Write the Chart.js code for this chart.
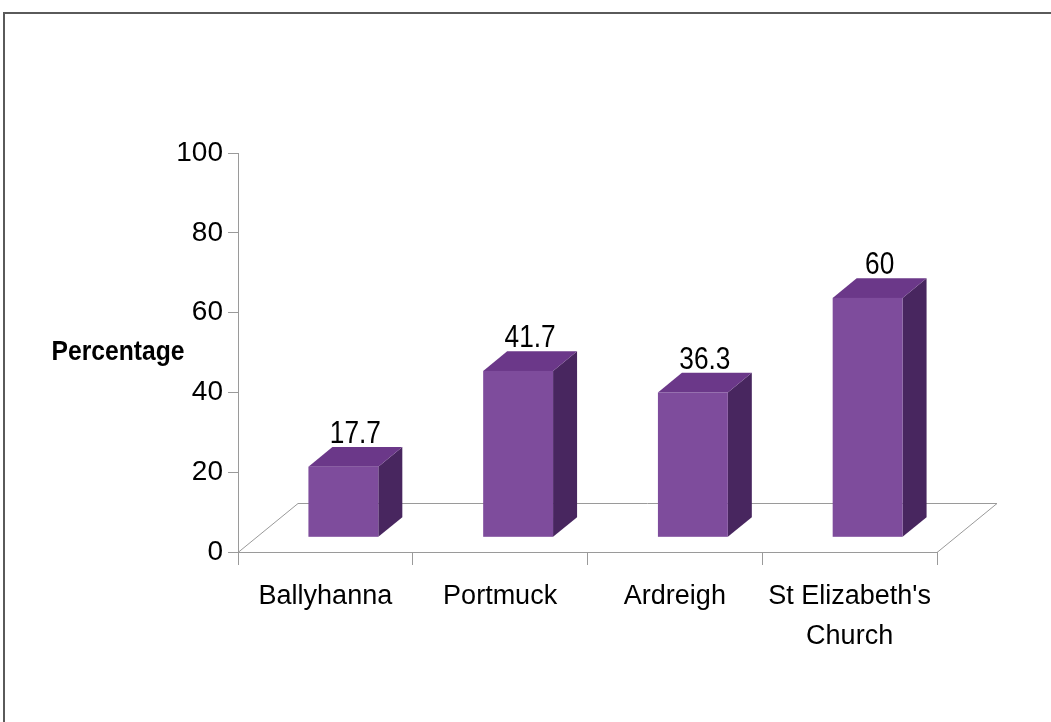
<!DOCTYPE html>
<html>
<head>
<meta charset="utf-8">
<script src="https://cdn.jsdelivr.net/npm/chart.js@4.4.1/dist/chart.umd.min.js"></script>
<style>
  html, body { margin: 0; padding: 0; background: #ffffff; }
  #wrap { position: relative; width: 1051px; height: 722px; }
</style>
</head>
<body>
<div id="wrap"><canvas id="c" width="1051" height="722"></canvas></div>
<script>
// ---- data ----
const categories = ["Ballyhanna", "Portmuck", "Ardreigh", ["St Elizabeth's", "Church"]];
const percentages = [17.7, 41.7, 36.3, 60];
const yTicks = [0, 20, 40, 60, 80, 100];
const yAxisTitle = "Percentage";

// ---- style ----
const FONT = "'Liberation Sans', Arial, sans-serif";
const FRONT = '#7E4C9C', TOP = '#6B3889', SIDE = '#48265F';
const AXIS = '#9a9a9a';
const FLOOR_DX = 60, FLOOR_DY = 49;     // depth of floor
const BAR_FRONT = 0.3, BAR_DEPTH = 0.4; // fractions of floor depth

function narrowText(ctx, text, x, y, squeeze) {
  ctx.save();
  ctx.translate(x, y);
  ctx.scale(squeeze, 1);
  ctx.fillText(text, 0, 0);
  ctx.restore();
}

const threeD = {
  id: 'threeD',
  beforeDraw(chart) {
    const ctx = chart.ctx;
    ctx.save();
    ctx.fillStyle = '#ffffff';
    ctx.fillRect(0, 0, chart.width, chart.height);
    ctx.strokeStyle = '#5a5a5a';
    ctx.lineWidth = 2;
    ctx.strokeRect(4, 13, chart.width + 20, chart.height + 20);
    ctx.restore();
  },
  beforeDatasetsDraw(chart) {
    const ctx = chart.ctx, a = chart.chartArea;
    ctx.save();
    ctx.strokeStyle = AXIS;
    ctx.lineWidth = 1;
    ctx.beginPath();
    ctx.moveTo(a.left, a.bottom + 0.5);
    ctx.lineTo(a.left + FLOOR_DX, a.bottom - FLOOR_DY + 0.5);
    ctx.lineTo(a.right + FLOOR_DX, a.bottom - FLOOR_DY + 0.5);
    ctx.lineTo(a.right, a.bottom + 0.5);
    ctx.stroke();
    ctx.restore();
  },
  afterDatasetsDraw(chart) {
    const ctx = chart.ctx;
    const meta = chart.getDatasetMeta(0);
    const ox = FLOOR_DX * BAR_FRONT, oy = FLOOR_DY * BAR_FRONT;
    const dx = FLOOR_DX * BAR_DEPTH, dy = FLOOR_DY * BAR_DEPTH;
    ctx.save();
    meta.data.forEach((bar, i) => {
      const p = bar.getProps(['x', 'y', 'base', 'width'], true);
      const l = p.x - p.width / 2 + ox, r = p.x + p.width / 2 + ox;
      const t = p.y - oy, b = p.base - oy;
      ctx.fillStyle = SIDE;
      ctx.beginPath();
      ctx.moveTo(r, t); ctx.lineTo(r + dx, t - dy); ctx.lineTo(r + dx, b - dy); ctx.lineTo(r, b);
      ctx.closePath(); ctx.fill();
      ctx.fillStyle = TOP;
      ctx.beginPath();
      ctx.moveTo(l, t); ctx.lineTo(l + dx, t - dy); ctx.lineTo(r + dx, t - dy); ctx.lineTo(r, t);
      ctx.closePath(); ctx.fill();
      ctx.fillStyle = FRONT;
      ctx.fillRect(l, t, r - l, b - t);
      ctx.fillStyle = '#000000';
      ctx.font = '32px ' + FONT;
      ctx.textAlign = 'center';
      ctx.textBaseline = 'alphabetic';
      narrowText(ctx, String(percentages[i]), (l + r) / 2 + dx / 2, t - dy - 4, 0.82);
    });
    ctx.restore();
  },
  afterDraw(chart) {
    const ctx = chart.ctx, a = chart.chartArea;
    ctx.save();
    ctx.fillStyle = '#000000';
    ctx.font = 'bold 28px ' + FONT;
    ctx.textAlign = 'center';
    ctx.textBaseline = 'middle';
    narrowText(ctx, yAxisTitle, 118, (a.top + a.bottom) / 2, 0.88);
    ctx.restore();
  }
};

Chart.defaults.font.family = FONT;
Chart.defaults.color = '#000000';

new Chart(document.getElementById('c'), {
  type: 'bar',
  data: {
    labels: categories,
    datasets: [{
      data: percentages,
      backgroundColor: 'rgba(0,0,0,0)',
      borderWidth: 0,
      barPercentage: 0.4,
      categoryPercentage: 1.0
    }]
  },
  options: {
    responsive: false,
    animation: false,
    devicePixelRatio: 1,
    layout: { padding: { left: 0, right: 114, top: 153, bottom: 0 } },
    plugins: { legend: { display: false }, tooltip: { enabled: false }, title: { display: false } },
    scales: {
      x: {
        grid: { offset: true, drawOnChartArea: false, drawTicks: true, tickLength: 13, color: AXIS },
        border: { display: true, color: AXIS },
        ticks: { font: { size: 27, lineHeight: 1.48 }, color: '#000', padding: 12, maxRotation: 0, autoSkip: false },
        afterFit(s) { s.height = 722 - 552; }
      },
      y: {
        min: 0, max: 100,
        afterBuildTicks(s) { s.ticks = yTicks.map(v => ({ value: v })); },
        grid: { drawOnChartArea: false, drawTicks: true, tickLength: 10, color: AXIS },
        border: { display: true, color: AXIS },
        ticks: { font: { size: 28 }, color: '#000', padding: 5 },
        afterFit(s) { s.width = 238; }
      }
    }
  },
  plugins: [threeD]
});
</script>
</body>
</html>
